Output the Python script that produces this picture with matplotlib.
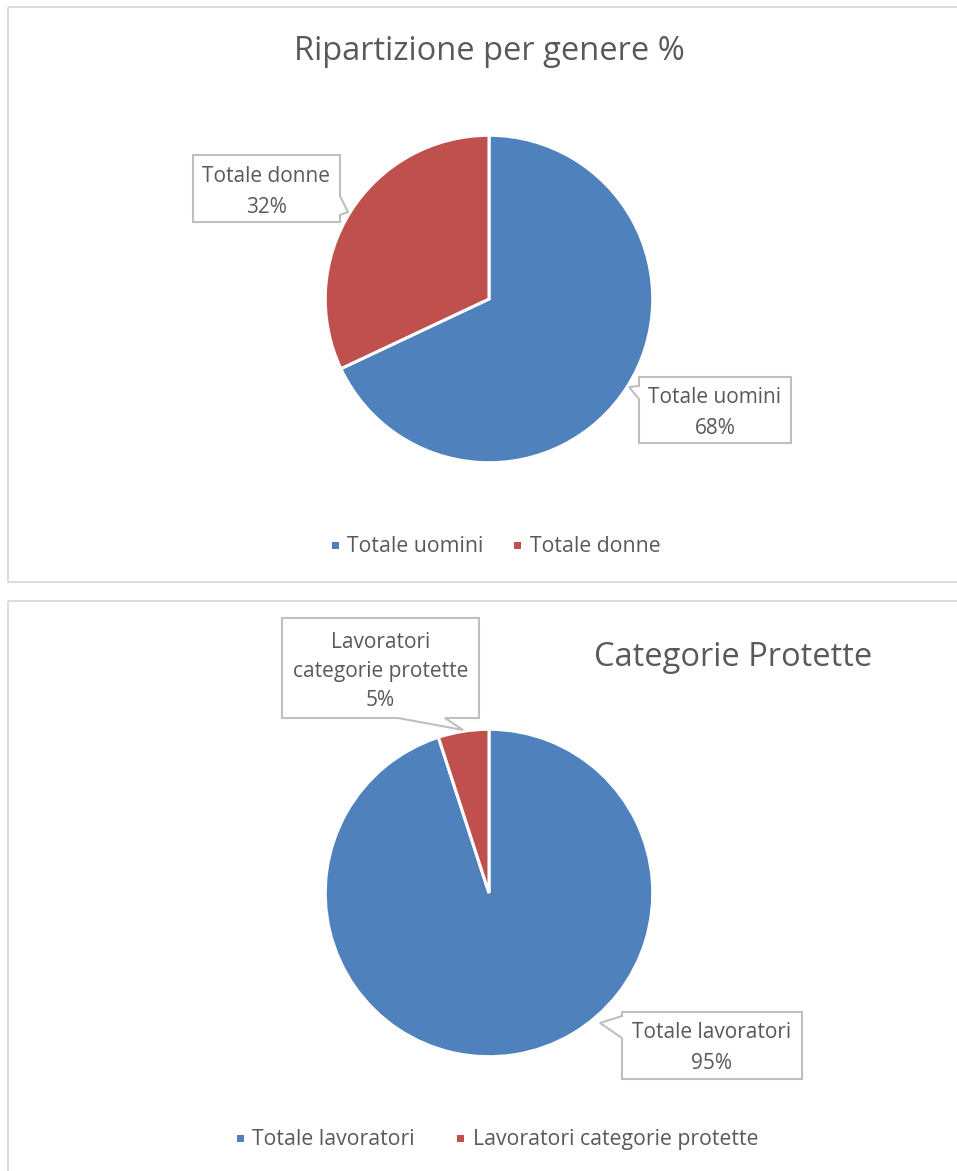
import matplotlib
matplotlib.use("Agg")
import matplotlib.pyplot as plt
from matplotlib.patches import Polygon, Rectangle

plt.rcParams['font.family'] = ['Open Sans', 'DejaVu Sans']

# ---- data ----
title1 = "Ripartizione per genere %"
labels1 = ["Totale uomini", "Totale donne"]
values1 = [68, 32]

title2 = "Categorie Protette"
labels2 = ["Totale lavoratori", "Lavoratori categorie protette"]
label2_display = ["Totale lavoratori", "Lavoratori\ncategorie protette"]
values2 = [95, 5]

colors = ["#4F81BD", "#C0504D"]
TXT = "#595959"

W, H = 957, 1171
fig = plt.figure(figsize=(W / 100, H / 100), dpi=100)

ov = fig.add_axes([0, 0, 1, 1], zorder=3)
ov.set_xlim(0, W)
ov.set_ylim(H, 0)
ov.axis("off")
ov.patch.set_alpha(0)

ov.add_patch(Rectangle((8, 7), 1000, 575, fill=False, ec="#D9D9D9", lw=1.3))
ov.add_patch(Rectangle((8, 601), 1000, 700, fill=False, ec="#D9D9D9", lw=1.3))


def pie_axes(cx, cy, r):
    return fig.add_axes([(cx - r) / W, (H - cy - r) / H, 2 * r / W, 2 * r / H], zorder=2)


def draw_pie(ax, values):
    ax.pie(values, colors=colors, startangle=90, counterclock=False,
           wedgeprops=dict(edgecolor="white", linewidth=2.2), radius=1)
    ax.set_xlim(-1.02, 1.02)
    ax.set_ylim(-1.02, 1.02)
    ax.set_aspect("auto")
    ax.axis("off")


LFS = 15.0
GFS = 15.3
TFS = 23.5


def callout(pts, text, tx, ty, fs=LFS, ls=1.58):
    ov.add_patch(Polygon(pts, closed=True, fc="white", ec="#BFBFBF", lw=1.5, zorder=4))
    ov.text(tx, ty, text, ha="center", va="center", fontsize=fs, color=TXT,
            linespacing=ls, zorder=5)


def legend(items, y, fs=GFS):
    for (mx, tx, lab, col) in items:
        ov.add_patch(Rectangle((mx - 3.5, y - 3.5), 7, 7, fc=col, ec="none", zorder=5))
        ov.text(tx, y + 1.5, lab, ha="left", va="center", fontsize=fs, color=TXT, zorder=5)


# ---- chart 1 ----
ov.text(489, 52, title1, ha="center", va="center", fontsize=TFS, color=TXT)
ax1 = pie_axes(489, 299, 167)
draw_pie(ax1, values1)

callout([(193, 155), (340, 155), (340, 196), (348, 212), (340, 215), (340, 222), (193, 222)],
        f"{labels1[1]}\n{values1[1]}%", 266.5, 192)
callout([(639, 377), (791, 377), (791, 443), (639, 443), (639, 399), (629, 387), (639, 386)],
        f"{labels1[0]}\n{values1[0]}%", 715, 413)

legend([(335, 347, labels1[0], colors[0]), (517, 530, labels1[1], colors[1])], 545)

# ---- chart 2 ----
ov.text(733, 658, title2, ha="center", va="center", fontsize=TFS, color=TXT)
ax2 = pie_axes(489, 893, 167)
draw_pie(ax2, values2)

callout([(282, 618), (479, 618), (479, 718), (445, 718), (463, 730), (398, 718), (282, 718)],
        f"{label2_display[1]}\n{values2[1]}%", 380.5, 671, ls=1.5)
callout([(622, 1012), (802, 1012), (802, 1079), (622, 1079), (622, 1038), (600, 1023), (622, 1016)],
        f"{label2_display[0]}\n{values2[0]}%", 712, 1048)

legend([(240, 252, labels2[0], colors[0]), (460, 473, labels2[1], colors[1])], 1138)

fig.savefig("out.png", dpi=100, facecolor="white")
